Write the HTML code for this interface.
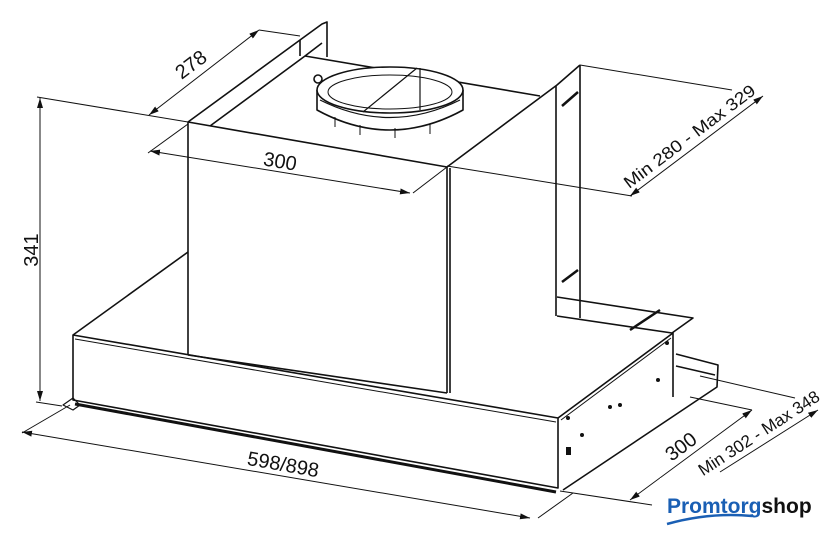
<!DOCTYPE html>
<html><head><meta charset="utf-8"><style>
html,body{margin:0;padding:0;background:#fff}
svg{display:block}
text{font-family:"Liberation Sans",sans-serif;fill:#111}
</style></head><body>
<svg width="840" height="542" viewBox="0 0 840 542" xmlns="http://www.w3.org/2000/svg">
<defs>
<marker id="a" viewBox="0 0 10 6" refX="10" refY="3" markerWidth="10" markerHeight="6" orient="auto-start-reverse" markerUnits="userSpaceOnUse"><path d="M0,0L10,3L0,6z" fill="#111"/></marker>
</defs>
<g stroke="#111" fill="none" stroke-width="1">
<line x1="40" y1="98" x2="40" y2="401" marker-start="url(#a)" marker-end="url(#a)"/>
<line x1="37" y1="97" x2="188" y2="122"/>
<line x1="36" y1="402" x2="62" y2="406"/>
<line x1="149" y1="115" x2="259" y2="30" marker-start="url(#a)" marker-end="url(#a)"/>
<line x1="259" y1="30" x2="300" y2="36"/>
<line x1="150" y1="151" x2="410" y2="193" marker-start="url(#a)" marker-end="url(#a)"/>
<line x1="188" y1="124" x2="148" y2="153"/>
<line x1="447" y1="167" x2="413" y2="193"/>
<line x1="630" y1="196" x2="763" y2="96" marker-start="url(#a)" marker-end="url(#a)"/>
<line x1="580" y1="65" x2="732" y2="90"/>
<line x1="447" y1="166" x2="632" y2="196"/>
<line x1="22" y1="432" x2="530" y2="518" marker-start="url(#a)" marker-end="url(#a)"/>
<line x1="70" y1="405" x2="22" y2="433"/>
<line x1="538" y1="518" x2="573" y2="493"/>
<line x1="630" y1="500" x2="752" y2="410" marker-start="url(#a)" marker-end="url(#a)"/>
<line x1="560" y1="491" x2="652" y2="505"/>
<line x1="690" y1="397" x2="752" y2="410"/>
<line x1="720" y1="472" x2="818" y2="410" marker-end="url(#a)"/>
<line x1="700" y1="376" x2="795" y2="398"/>
</g>
<g stroke="#111" fill="none" stroke-width="1.6" stroke-linejoin="round">
<path d="M188,122 L300,40 L322,24 L327,22 L327,57"/>
<path d="M300,40 L300,56 M305,56 L322,43 M210,126 L305,56"/>
<path d="M188,122 L447,167 L557,85 L580,65"/>
<path d="M305,56 L540,96"/>
<path d="M188,122 L188,355"/>
<path d="M447,167 L447,393 M450,168 L450,393"/>
<path d="M556,86 L556,316 M580,65 L580,318"/>
<path d="M562,106 L578,92 M562,282 L578,270" stroke-width="2.5"/>
<!-- duct ring -->
<path d="M317,90 L317,110 Q390,150 463,110 L463,90" fill="#fff"/>
<ellipse cx="390" cy="90" rx="73" ry="23" fill="#fff"/>
<path d="M320,100 Q390,135 460,100" stroke-width="1.2"/>
<ellipse cx="390" cy="92" rx="62" ry="17" stroke-width="1"/>
<path d="M420,68 L420,110 M417,68 L363,112" stroke-width="1.2"/>
<path d="M335,117 l0,10 M360,125 l0,10 M395,128 l0,10 M430,124 l0,10" stroke-width="1"/>
<circle cx="318" cy="79" r="4"/>
<!-- lower body -->
<path d="M73,335 L188,252"/>
<path d="M73,335 L558,418 L558,488 L73,400 Z"/>
<path d="M75,339 L556,422" stroke-width="1"/>
<path d="M75,404 L556,492" stroke-width="3"/>
<path d="M558,418 L673,333 L673,397"/>
<path d="M561,420 L671,338" stroke-width="1"/>
<path d="M563,490 L717,387 L718,365 L676,354"/>
<path d="M676,366 L715,375"/>
<path d="M447,393 L188,355"/>
<path d="M557,297 L693,318 L672,333 M557,316 L672,333"/>
<path d="M630,330 L660,310" stroke-width="2.5"/>
<path d="M63,405 L73,398 L80,405 L73,410 Z" stroke-width="1.2"/>
</g>
<g fill="#111">
<circle cx="568" cy="418" r="2"/><circle cx="582" cy="435" r="2"/><circle cx="610" cy="407" r="2"/><circle cx="620" cy="405" r="2"/><circle cx="658" cy="380" r="2"/><circle cx="667" cy="343" r="2"/>
<rect x="566" y="447" width="5" height="8"/>
</g>
<text font-size="20" transform="translate(38,250) rotate(-90)" text-anchor="middle">341</text>
<text font-size="20" transform="translate(195,70) rotate(-37)" text-anchor="middle">278</text>
<text font-size="20" transform="translate(279,168) rotate(9.5)" text-anchor="middle">300</text>
<text font-size="17" transform="translate(693,141) rotate(-37)" text-anchor="middle" textLength="160" lengthAdjust="spacingAndGlyphs">Min 280 - Max 329</text>
<text font-size="20" transform="translate(282,471) rotate(10)" text-anchor="middle">598/898</text>
<text font-size="20" transform="translate(685,452) rotate(-37)" text-anchor="middle">300</text>
<text font-size="17" transform="translate(762,438) rotate(-33)" text-anchor="middle">Min 302 - Max 348</text>
<rect x="660" y="478" width="180" height="64" fill="#fff"/>
<text x="667" y="513" font-size="21" font-weight="bold" style="fill:#1a5fb4">Promtorg<tspan style="fill:#111">shop</tspan></text>
<path d="M667,524 Q710,512 752,516" stroke="#1a5fb4" stroke-width="2.5" fill="none"/>
</svg>
</body></html>
